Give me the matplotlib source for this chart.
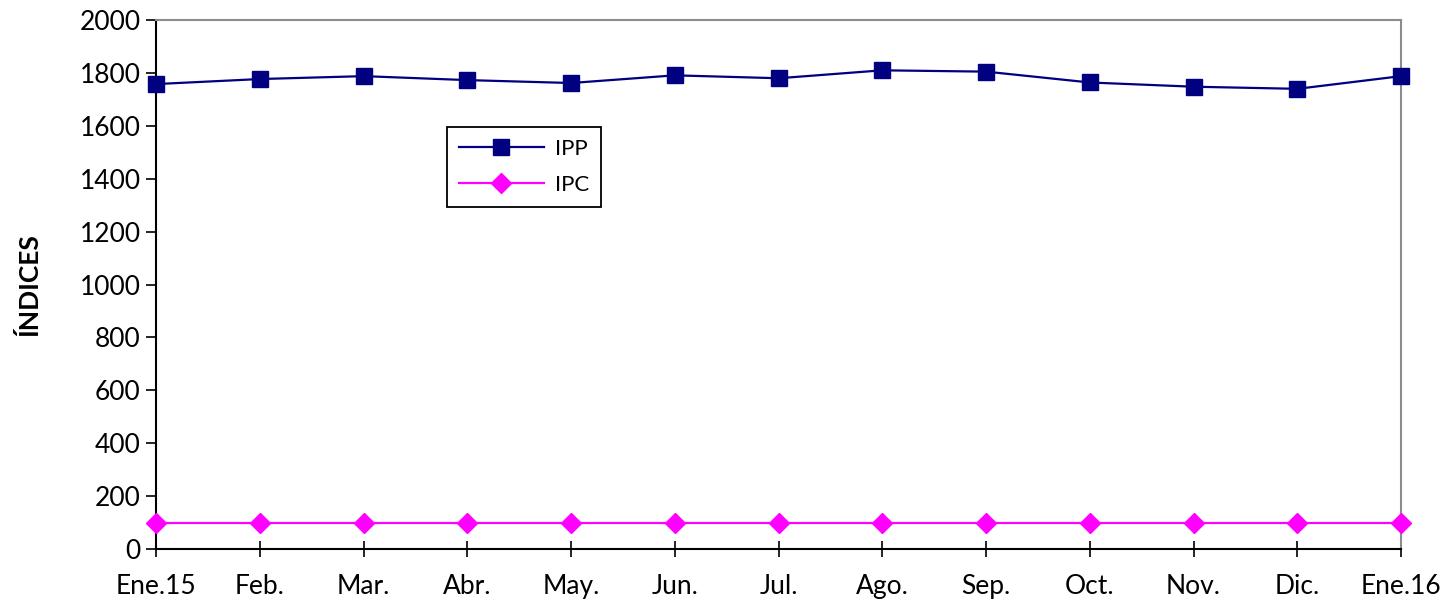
import matplotlib
matplotlib.use("Agg")
import matplotlib.pyplot as plt

plt.rcParams['font.family'] = ['Lato', 'DejaVu Sans']

meses = ['Ene.15', 'Feb.', 'Mar.', 'Abr.', 'May.', 'Jun.', 'Jul.',
         'Ago.', 'Sep.', 'Oct.', 'Nov.', 'Dic.', 'Ene.16']
ipp = [1758, 1777, 1788, 1773, 1762, 1791, 1780,
       1810, 1805, 1764, 1748, 1740, 1788]
ipc = [99, 99, 99, 99, 99, 99, 99, 99, 99, 99, 99, 99, 99]

fig = plt.figure(figsize=(14.49, 6.08), dpi=100)
ax = fig.add_axes([0.1077, 0.097, 0.8592, 0.870])

x = range(len(meses))
ax.plot(x, ipp, color='#000080', lw=1.6, marker='s', markersize=11,
        markeredgecolor='#000080', label='IPP', clip_on=False, zorder=3)
ax.plot(x, ipc, color='#FF00FF', lw=1.6, marker='D', markersize=10,
        markeredgecolor='#FF00FF', label='IPC', clip_on=False, zorder=3)

ax.set_xlim(0, len(meses) - 1)
ax.set_ylim(0, 2000)
ax.set_yticks(range(0, 2001, 200))
ax.set_xticks(list(x))
ax.set_xticklabels(meses)

ax.tick_params(axis='y', direction='out', length=7, width=1.2, labelsize=19, pad=4)
ax.tick_params(axis='x', direction='inout', length=12, width=1.2, labelsize=19, pad=12)

for s in ['left', 'bottom']:
    ax.spines[s].set_color('black')
    ax.spines[s].set_linewidth(1.5)
for s in ['top', 'right']:
    ax.spines[s].set_color('#8c8c8c')
    ax.spines[s].set_linewidth(1.5)

ax.set_ylabel('ÍNDICES', fontsize=19, fontweight='bold', labelpad=28)

leg = ax.legend(loc='lower left', bbox_to_anchor=(0.2337, 0.6465), fontsize=16,
                fancybox=False, framealpha=1, edgecolor='black', borderaxespad=0,
                handlelength=3.8, borderpad=0.55, labelspacing=0.7, handletextpad=0.5)
leg.get_frame().set_linewidth(1.3)

fig.savefig('out.png', dpi=100)
